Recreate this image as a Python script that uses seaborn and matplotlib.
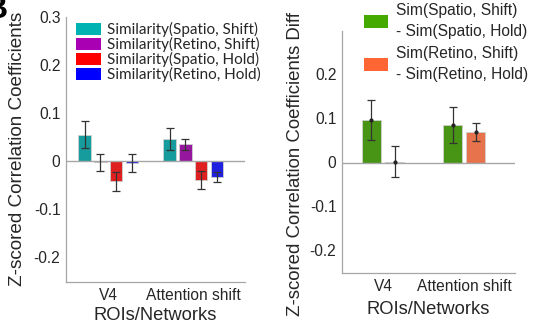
import matplotlib
matplotlib.use("Agg")
import matplotlib.pyplot as plt
import seaborn as sns
import pandas as pd

sns.set_style("white")
plt.rcParams["font.family"] = ["Liberation Sans", "DejaVu Sans"]

# ---- data -------------------------------------------------------------
groups = ["V4", "Attention shift"]

sim_labels = [
    "Similarity(Spatio, Shift)",
    "Similarity(Retino, Shift)",
    "Similarity(Spatio, Hold)",
    "Similarity(Retino, Hold)",
]
sim_spatio_shift = [0.055, 0.046]
sim_retino_shift = [-0.002, 0.035]
sim_spatio_hold = [-0.042, -0.039]
sim_retino_hold = [-0.003, -0.033]
sim_spatio_shift_err = [0.028, 0.0235]
sim_retino_shift_err = [0.018, 0.011]
sim_spatio_hold_err = [0.019, 0.019]
sim_retino_hold_err = [0.019, 0.010]

diff_labels = [
    "Sim(Spatio, Shift)\n- Sim(Spatio, Hold)",
    "Sim(Retino, Shift)\n- Sim(Retino, Hold)",
]
diff_spatio = [0.096, 0.085]
diff_retino = [0.002, 0.069]
diff_spatio_err = [0.045, 0.041]
diff_retino_err = [0.035, 0.020]

sim_colors = ["#00B2B2", "#AA00B4", "#FF0000", "#0000FF"]
diff_colors = ["#44AA00", "#FF6633"]

sim_values = [sim_spatio_shift, sim_retino_shift, sim_spatio_hold, sim_retino_hold]
sim_errors = [sim_spatio_shift_err, sim_retino_shift_err, sim_spatio_hold_err, sim_retino_hold_err]
diff_values = [diff_spatio, diff_retino]
diff_errors = [diff_spatio_err, diff_retino_err]


def long_table(labels, values):
    rows = []
    for lab, vals in zip(labels, values):
        for g, v in zip(groups, vals):
            rows.append({"group": g, "measure": lab, "value": v})
    return pd.DataFrame(rows)


TEXT = "#262626"
SPINE = "#A6A6A6"


def draw_panel(ax, labels, values, errors, colors, width, gap, xlim, ylabel,
               yticks, dots, xlabelpad, ylabel_fs, ylabel_pos):
    df = long_table(labels, values)
    sns.barplot(data=df, x="group", y="value", hue="measure", hue_order=labels,
                palette=colors, order=groups, width=width, gap=gap,
                errorbar=None, edgecolor="#D0D0D0", linewidth=0.6,
                legend=False, ax=ax)
    for cont, vals, errs in zip(ax.containers, values, errors):
        xs = [b.get_x() + b.get_width() / 2 for b in cont]
        ax.errorbar(xs, vals, yerr=errs, fmt="o" if dots else "none",
                    ms=2 if dots else 0, color="#222222", ecolor="#333333",
                    elinewidth=0.9, capsize=3, capthick=0.9, zorder=5)
    ax.axhline(0, color=SPINE, lw=1.0, zorder=1)
    ax.set_xlim(*xlim)
    ax.set_ylim(-0.25, 0.3)
    ax.set_yticks(yticks)
    ax.set_yticklabels(["%g" % t for t in yticks])
    for s in ["top", "right"]:
        ax.spines[s].set_visible(False)
    for s in ["left", "bottom"]:
        ax.spines[s].set_color(SPINE)
        ax.spines[s].set_linewidth(0.9)
    ax.tick_params(direction="in", length=3, width=0.8, color=SPINE,
                   labelsize=11.2, labelcolor=TEXT, pad=4)
    ax.tick_params(axis="x", pad=5)
    ax.set_xlabel("ROIs/Networks", fontsize=13.2, color=TEXT, labelpad=xlabelpad)
    ax.set_ylabel(ylabel, fontsize=ylabel_fs, color=TEXT)
    ax.yaxis.set_label_coords(*ylabel_pos)


fig = plt.figure(figsize=(5.35, 3.25), dpi=100)

ax1 = fig.add_axes([66 / 535, 1 - 281.5 / 325, 179 / 535, 264.5 / 325])
draw_panel(ax1, sim_labels, sim_values, sim_errors, sim_colors,
           width=0.74, gap=0.2, xlim=(-0.498, 1.608),
           ylabel="Z-scored Correlation Coefficients",
           yticks=[-0.2, -0.1, 0, 0.1, 0.2, 0.3], dots=False, xlabelpad=2.5,
           ylabel_fs=13.6, ylabel_pos=(-(66 - 26) / 179, 0.5))

ax2 = fig.add_axes([342 / 535, 1 - 272.5 / 325, 173 / 535, 242 / 325])
draw_panel(ax2, diff_labels, diff_values, diff_errors, diff_colors,
           width=0.57, gap=0.19, xlim=(-0.506, 1.626),
           ylabel="Z-scored Correlation Coefficients Diff",
           yticks=[-0.2, -0.1, 0, 0.1, 0.2], dots=True, xlabelpad=5,
           ylabel_fs=13.4, ylabel_pos=(-(342 - 304) / 173, (272.5 - 164) / 242))

# legends
h1 = [plt.Rectangle((0, 0), 1, 1, facecolor=c, edgecolor="none") for c in sim_colors]
fig.legend(h1, sim_labels, loc="upper left", bbox_to_anchor=(76 / 535, 1 - 22 / 325),
           frameon=False, prop={"family": ["Lato", "DejaVu Sans"], "size": 11},
           handlelength=1.65, handleheight=0.85, handletextpad=0.35,
           labelspacing=0.0, borderpad=0, borderaxespad=0, labelcolor=TEXT)

h2 = [plt.Rectangle((0, 0), 1, 1, facecolor=c, edgecolor="none") for c in diff_colors]
leg2 = fig.legend(h2, diff_labels, loc="upper left",
                  bbox_to_anchor=(364 / 535, 1 - 3 / 325),
                  frameon=False, prop={"size": 11.2},
                  handlelength=1.55, handleheight=0.9, handletextpad=0.5,
                  labelspacing=0.45, borderpad=0, borderaxespad=0, labelcolor=TEXT)
for t in leg2.get_texts():
    t.set_linespacing(1.5)

fig.text(8 / 535, 1 - 10 / 325, "B", fontsize=24, fontweight="bold",
         ha="right", va="center", color="black")

fig.savefig("out.png", dpi=100)
